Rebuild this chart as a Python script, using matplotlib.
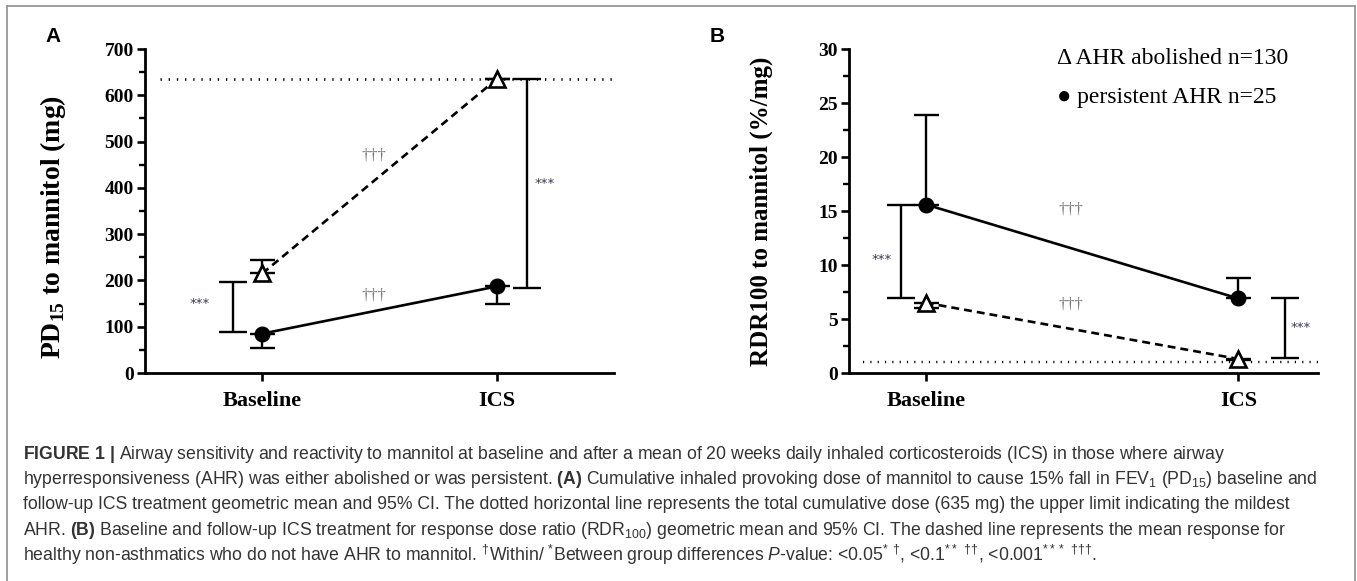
import matplotlib
matplotlib.use('Agg')
import matplotlib.pyplot as plt
from matplotlib.ticker import MultipleLocator
from matplotlib.lines import Line2D

plt.rcParams['mathtext.fontset'] = 'custom'
plt.rcParams['mathtext.rm'] = 'Liberation Sans'
plt.rcParams['mathtext.it'] = 'Liberation Sans:italic'
plt.rcParams['mathtext.bf'] = 'Liberation Sans:bold'
plt.rcParams['mathtext.sf'] = 'Liberation Serif:bold'

# ---------------- data ----------------
groups = ['Baseline', 'ICS']
xpos = [0, 1]

# Panel A: PD15 to mannitol (mg)
a_abol = [215, 635]          # AHR abolished (open triangle, dashed)
a_abol_hi = [245, 635]       # upper 95% CI
a_pers = [85, 187]           # persistent AHR (filled circle, solid)
a_pers_lo = [55, 150]        # lower 95% CI
a_between_lo = [88, 183]     # between-group brackets
a_between_hi = [197, 635]
a_limit = 635                # max cumulative dose

# Panel B: RDR100 to mannitol (%/mg)
b_pers = [15.6, 6.9]
b_pers_hi = [23.9, 8.8]
b_abol = [6.5, 1.3]
b_abol_lo = [6.0, 1.2]
b_between_lo = [6.9, 1.4]
b_between_hi = [15.6, 6.9]
b_healthy = 1.0

W, H = 1357, 581
fig = plt.figure(figsize=(W / 100, H / 100), dpi=100)


def px(x, y):
    return x / W, 1 - y / H


SERIF_B = dict(family='Liberation Serif', weight='bold')
LW = 1.7


def style_axis(ax, ylim, major, minor):
    ax.set_ylim(*ylim)
    ax.yaxis.set_major_locator(MultipleLocator(major))
    ax.yaxis.set_minor_locator(MultipleLocator(minor))
    for s in ['top', 'right']:
        ax.spines[s].set_visible(False)
    for s in ['left', 'bottom']:
        ax.spines[s].set_linewidth(2.0)
    ax.tick_params(axis='both', which='major', length=6, width=1.9, direction='out')
    ax.tick_params(axis='y', which='minor', length=4, width=1.7, direction='out')
    ax.tick_params(axis='x', pad=7)
    ax.tick_params(axis='y', pad=2)
    ax.set_xticks(xpos)
    ax.set_xticklabels(groups, fontsize=16, **SERIF_B)
    for lab in ax.get_yticklabels():
        lab.set_fontsize(14)
        lab.set_fontfamily('Liberation Serif')
        lab.set_fontweight('bold')


def bracket(ax, x, lo, hi, cap=10):
    mid = (lo + hi) / 2
    ax.errorbar([x], [mid], yerr=[[mid - lo], [hi - mid]], fmt='none',
                ecolor='black', elinewidth=LW, capsize=cap, capthick=LW)


dashes = (3.0, 1.9)
dots = (0.5, 2.6)

# ---------------- Panel A ----------------
axA = fig.add_axes([145 / W, (H - 373) / H, (614 - 145) / W, (373 - 49) / H])
axA.set_xlim(-0.5, 1.5)
axA.plot([-0.434, 1.5], [a_limit, a_limit], color='black', lw=1.9,
         linestyle=(0, dots), zorder=1)
axA.errorbar(xpos, a_abol, yerr=[[0, 0], [h - v for h, v in zip(a_abol_hi, a_abol)]],
             fmt='none', ecolor='black', elinewidth=LW, capsize=9, capthick=LW, zorder=2)
axA.errorbar(xpos, a_pers, yerr=[[v - l for v, l in zip(a_pers, a_pers_lo)], [0, 0]],
             fmt='none', ecolor='black', elinewidth=LW, capsize=9, capthick=LW, zorder=2)
axA.plot(xpos, a_abol, color='black', lw=1.9, linestyle=(0, dashes), marker='^',
         markersize=11.5, markerfacecolor='white', markeredgecolor='black',
         markeredgewidth=1.9, zorder=3)
axA.plot(xpos, a_pers, color='black', lw=1.9, marker='o', markersize=10.5, zorder=3)
bracket(axA, xpos[0] - 0.123, a_between_lo[0], a_between_hi[0])
bracket(axA, xpos[1] + 0.128, a_between_lo[1], a_between_hi[1])
axA.text(xpos[0] - 0.265, 150, '***', fontsize=9.5, ha='center', va='center', color='#3a3a55')
axA.text(xpos[1] + 0.205, 410, '***', fontsize=9.5, ha='center', va='center', color='#3a3a55')
axA.text(0.477, 470, '†††', fontsize=12, ha='center', va='center', color='#777777',
         family='Liberation Serif')
axA.text(0.477, 168, '†††', fontsize=12, ha='center', va='center', color='#777777',
         family='Liberation Serif')
style_axis(axA, (0, 700), 100, 50)
axA.set_ylabel(r'PD$_{\mathsf{15}}$ to mannitol (mg)', fontsize=20, **SERIF_B)
axA.yaxis.set_label_coords(-0.164, 0.45)

# ---------------- Panel B ----------------
axB = fig.add_axes([849 / W, (H - 373) / H, (1318 - 849) / W, (373 - 49) / H])
axB.set_xlim(-0.246, 1.255)
axB.plot([-0.2, 1.255], [b_healthy, b_healthy], color='black', lw=1.7,
         linestyle=(0, dots), zorder=1)
axB.errorbar(xpos, b_pers, yerr=[[0, 0], [h - v for h, v in zip(b_pers_hi, b_pers)]],
             fmt='none', ecolor='black', elinewidth=LW, capsize=9, capthick=LW, zorder=2)
axB.errorbar(xpos, b_abol, yerr=[[v - l for v, l in zip(b_abol, b_abol_lo)], [0, 0]],
             fmt='none', ecolor='black', elinewidth=LW, capsize=9, capthick=LW, zorder=2)
axB.plot(xpos, b_pers, color='black', lw=1.9, marker='o', markersize=10.5, zorder=3)
axB.plot(xpos, b_abol, color='black', lw=1.9, linestyle=(0, dashes), marker='^',
         markersize=11.5, markerfacecolor='white', markeredgecolor='black',
         markeredgewidth=1.9, zorder=3)
bracket(axB, xpos[0] - 0.08, b_between_lo[0], b_between_hi[0])
bracket(axB, xpos[1] + 0.15, b_between_lo[1], b_between_hi[1])
axB.text(xpos[0] - 0.14, 10.5, '***', fontsize=9.5, ha='center', va='center', color='#3a3a55')
axB.text(xpos[1] + 0.2, 4.2, '***', fontsize=9.5, ha='center', va='center', color='#3a3a55')
axB.text(0.465, 15.1, '†††', fontsize=12, ha='center', va='center', color='#777777',
         family='Liberation Serif')
axB.text(0.465, 6.3, '†††', fontsize=12, ha='center', va='center', color='#777777',
         family='Liberation Serif')
style_axis(axB, (0, 30), 5, 2.5)
axB.set_ylabel('RDR100 to mannitol (%/mg)', fontsize=18, **SERIF_B)
axB.yaxis.set_label_coords(-0.162, 0.5)

# legend-like text
fig.text(*px(1057, 58), 'Δ AHR abolished n=130', fontsize=17, family='Liberation Serif',
         ha='left', va='center')
fig.text(*px(1057, 98), '● persistent AHR n=25', fontsize=17, family='Liberation Serif',
         ha='left', va='center')

# panel labels
fig.text(*px(53, 37), 'A', fontsize=15, weight='bold', family='Liberation Sans',
         ha='center', va='center')
fig.text(*px(717, 37), 'B', fontsize=15, weight='bold', family='Liberation Sans',
         ha='center', va='center')

# caption
caption = [
    r"$\mathbf{FIGURE\ 1\ |}$ Airway sensitivity and reactivity to mannitol at baseline and after a mean of 20 weeks daily inhaled corticosteroids (ICS) in those where airway",
    r"hyperresponsiveness (AHR) was either abolished or was persistent. $\mathbf{(A)}$ Cumulative inhaled provoking dose of mannitol to cause 15% fall in FEV$_1$ (PD$_{15}$) baseline and",
    r"follow-up ICS treatment geometric mean and 95% CI. The dotted horizontal line represents the total cumulative dose (635 mg) the upper limit indicating the mildest",
    r"AHR. $\mathbf{(B)}$ Baseline and follow-up ICS treatment for response dose ratio (RDR$_{100}$) geometric mean and 95% CI. The dashed line represents the mean response for",
    r"healthy non-asthmatics who do not have AHR to mannitol. $^{\mathit{†}}$Within/ $^{*}$Between group differences $\mathit{P}$-value: <0.05$^{*}$ $^{\mathit{†}}$, <0.1$^{**}$ $^{\mathit{††}}$, <0.001$^{***}$ $^{\mathit{†††}}$.",
]
baselines = [459, 484, 509, 535, 561]
for line, yb in zip(caption, baselines):
    fig.text(*px(23, yb), line, fontsize=12.7, family='Liberation Sans', color='#333333',
             ha='left', va='baseline')

# frame
for (x0, y0, x1, y1) in [(7, 6, 1355, 6), (7, 6, 7, 581), (1355, 6, 1355, 581)]:
    fig.add_artist(Line2D([x0 / W, x1 / W], [1 - y0 / H, 1 - y1 / H],
                          transform=fig.transFigure, color='#999999', lw=1.3))

fig.savefig('out.png', dpi=100)
